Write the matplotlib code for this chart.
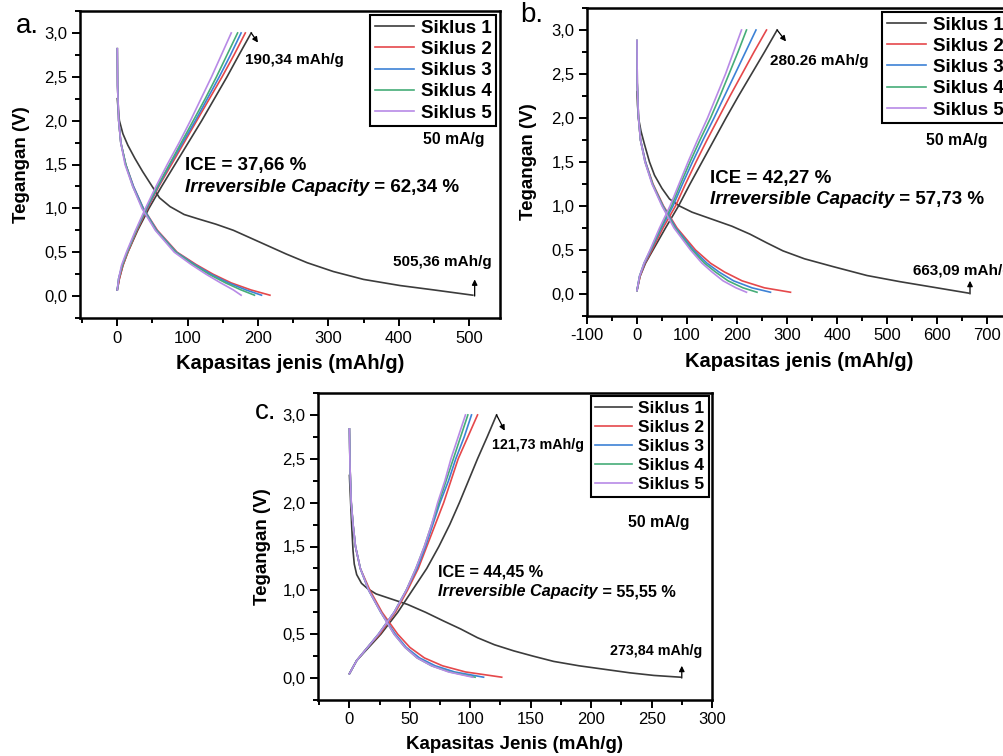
import matplotlib
matplotlib.use("Agg")
import matplotlib.pyplot as plt
from matplotlib.ticker import MultipleLocator, FuncFormatter

plt.rcParams['font.family'] = ['Liberation Sans', 'DejaVu Sans']
plt.rcParams['axes.unicode_minus'] = False

COLORS = ['#3c3c3c', '#e5484b', '#3d82d6', '#46ad78', '#b88ae6']
LABELS = ['Siklus 1', 'Siklus 2', 'Siklus 3', 'Siklus 4', 'Siklus 5']

# ---- panel a ----
a_dis1_cap = [0, 1, 3, 8, 15, 25, 36, 48, 60, 75, 95, 115, 140, 165, 190, 215, 240, 270, 307, 350, 402, 450, 505.36]
a_dis1_v = [2.25, 2.15, 2.0, 1.85, 1.72, 1.57, 1.42, 1.27, 1.12, 1.02, 0.93, 0.88, 0.82, 0.75, 0.66, 0.57, 0.48, 0.38, 0.28, 0.19, 0.12, 0.07, 0.01]
a_dis_v = [2.82, 2.4, 2.0, 1.75, 1.5, 1.25, 1.0, 0.75, 0.5, 0.36, 0.25, 0.15, 0.07, 0.01]
a_dis_cap = [
    [0, 0.4, 2, 5, 12, 23, 37, 57, 85, 112, 136, 162, 190, 217],
    [0, 0.4, 2, 5, 12, 23, 37, 56, 84, 110, 133, 158, 183, 205],
    [0, 0.4, 2, 5, 12, 22, 36, 55, 83, 108, 130, 154, 176, 195],
    [0, 0.4, 2, 5, 11, 22, 35, 54, 81, 105, 126, 147, 165, 176],
]
a_chg_v = [0.07, 0.2, 0.35, 0.5, 0.75, 1.0, 1.25, 1.5, 1.75, 2.0, 2.25, 2.5, 2.75, 3.0]
a_chg_cap = [
    [0, 3, 8, 15, 29, 45, 63, 82, 101, 120, 138, 156, 173, 190.34],
    [0, 3, 8, 15, 28, 43, 59, 77, 95, 113, 131, 149, 166, 182],
    [0, 2, 7, 14, 27, 42, 58, 75, 93, 111, 128, 145, 161, 176],
    [0, 2, 7, 14, 27, 41, 57, 74, 91, 108, 125, 141, 156, 171],
    [0, 2, 6, 13, 26, 40, 55, 71, 88, 104, 119, 134, 148, 162],
]

# ---- panel b ----
b_dis1_cap = [0, 1, 3, 8, 15, 25, 35, 50, 65, 85, 110, 150, 190, 226, 260, 292, 335, 393, 460, 526, 600, 663.09]
b_dis1_v = [2.3, 2.15, 2.0, 1.85, 1.7, 1.5, 1.35, 1.2, 1.08, 1.0, 0.93, 0.85, 0.77, 0.68, 0.58, 0.49, 0.4, 0.31, 0.21, 0.14, 0.07, 0.01]
b_dis_v = [2.88, 2.4, 2.0, 1.75, 1.5, 1.25, 1.0, 0.75, 0.5, 0.35, 0.25, 0.15, 0.07, 0.02]
b_dis_cap = [
    [0, 0.5, 3, 7, 17, 32, 53, 80, 117, 147, 175, 210, 255, 307],
    [0, 0.5, 3, 7, 17, 31, 52, 78, 113, 140, 164, 193, 230, 267],
    [0, 0.5, 3, 7, 16, 31, 51, 76, 110, 135, 157, 182, 212, 240],
    [0, 0.5, 3, 7, 16, 30, 50, 74, 107, 130, 150, 172, 198, 219],
]
b_chg_v = [0.04, 0.2, 0.35, 0.5, 0.75, 1.0, 1.25, 1.5, 1.75, 2.0, 2.25, 2.5, 2.75, 3.0]
b_chg_cap = [
    [0, 6, 17, 32, 57, 83, 106, 130, 154, 178, 203, 229, 255, 280.26],
    [0, 6, 16, 30, 52, 77, 97, 118, 140, 163, 186, 210, 234, 259],
    [0, 5, 15, 28, 49, 72, 91, 111, 132, 154, 175, 196, 217, 238],
    [0, 5, 14, 27, 47, 69, 87, 106, 126, 147, 166, 184, 202, 219],
    [0, 5, 14, 26, 45, 66, 84, 102, 121, 141, 159, 177, 193, 209],
]

# ---- panel c ----
c_dis1_cap = [0, 1, 2, 3, 4, 6, 10, 15, 22, 35, 48, 63, 78, 92, 106, 120, 136, 152, 169, 190, 211, 232, 252, 273.84]
c_dis1_v = [2.31, 2.0, 1.7, 1.45, 1.3, 1.18, 1.08, 1.02, 0.96, 0.9, 0.84, 0.75, 0.65, 0.56, 0.46, 0.38, 0.31, 0.25, 0.19, 0.14, 0.1, 0.06, 0.03, 0.01]
c_dis_v = [2.84, 2.4, 2.0, 1.75, 1.5, 1.25, 1.0, 0.75, 0.5, 0.35, 0.23, 0.14, 0.07, 0.01]
c_dis_cap = [
    [0, 0.5, 1.5, 3, 5, 9, 17, 27, 40, 50, 62, 77, 96, 126],
    [0, 0.5, 1.5, 3, 5, 9, 16, 26, 38, 47, 58, 71, 87, 111],
    [0, 0.5, 1.5, 3, 5, 9, 16, 26, 37, 46, 56, 68, 83, 104],
    [0, 0.5, 1.5, 3, 5, 9, 16, 26, 37, 46, 56, 68, 82, 102],
]
c_chg_v = [0.05, 0.2, 0.35, 0.5, 0.75, 1.0, 1.25, 1.5, 1.75, 2.0, 2.25, 2.5, 2.75, 3.0]
c_chg_cap = [
    [0, 6, 16, 26, 40, 52, 64, 74, 83, 91, 98.5, 106, 114, 121.73],
    [0, 6, 15, 25, 38, 48, 57, 64, 71, 78, 84, 90, 98, 106],
    [0, 6, 15, 24, 37, 47, 56, 63, 69, 75, 82, 88, 95, 101],
    [0, 6, 15, 24, 37, 47, 55, 62, 68, 74, 80, 86, 92, 98],
    [0, 6, 15, 24, 37, 47, 55, 62, 68, 73, 79, 84, 90, 96],
]


def draw_panel(ax, dis1_cap, dis1_v, dis_cap, dis_v, chg_cap, chg_v):
    for i in range(5):
        if i == 0:
            ax.plot(dis1_cap, dis1_v, color=COLORS[0], lw=1.2, label=LABELS[0])
        else:
            ax.plot(dis_cap[i - 1], dis_v, color=COLORS[i], lw=1.2, label=LABELS[i])
        ax.plot(chg_cap[i], chg_v, color=COLORS[i], lw=1.2)


def style_axes(ax, xlim, xmajor, xlabel, k=1.0, ypad=10):
    ax.set_xlim(*xlim)
    ax.set_ylim(-0.25, 3.25)
    ax.xaxis.set_major_locator(MultipleLocator(xmajor))
    ax.xaxis.set_minor_locator(MultipleLocator(xmajor / 2))
    ax.yaxis.set_major_locator(MultipleLocator(0.5))
    ax.yaxis.set_minor_locator(MultipleLocator(0.25))
    ax.yaxis.set_major_formatter(FuncFormatter(lambda v, p: f"{v:.1f}".replace('.', ',')))
    ax.tick_params(which='both', direction='out', top=False, right=False, width=1.4, labelsize=12, pad=3)
    ax.tick_params(which='major', length=6)
    ax.tick_params(which='minor', length=3.5)
    for s in ax.spines.values():
        s.set_linewidth(1.8)
    ax.set_xlabel(xlabel, fontsize=14.5 * k, fontweight='bold', labelpad=6)
    ax.set_ylabel('Tegangan (V)', fontsize=13.5, fontweight='bold', labelpad=ypad)
    leg = ax.legend(loc='upper right', prop={'weight': 'bold', 'size': 13.5 * k}, frameon=True,
                    fancybox=False, framealpha=1, edgecolor='black', borderaxespad=0.2,
                    handlelength=2.1, handletextpad=0.35, labelspacing=0.22, borderpad=0.25)
    leg.get_frame().set_linewidth(1.5)


def add_texts(ax, ice, irr, cur_pos, ice_pos, gap, k=1.0):
    ax.text(cur_pos[0], cur_pos[1], '50 mA/g', transform=ax.transAxes, fontsize=11.3,
            fontweight='bold', ha='center', va='center')
    ax.text(ice_pos[0], ice_pos[1], 'ICE = ' + ice, transform=ax.transAxes, fontsize=13.5 * k,
            fontweight='bold', va='center')
    t = ax.text(ice_pos[0], ice_pos[1] - gap, 'Irreversible Capacity', transform=ax.transAxes,
                fontsize=13.5 * k, fontweight='bold', style='italic', va='center')
    ax.annotate(' = ' + irr, xy=(1, 0.5), xycoords=t, fontsize=13.5 * k, fontweight='bold',
                va='center', ha='left')


def add_capacity_marks(ax, top_end, top_tip, top_text, top_pos, bot_end, bot_tip, bot_text, bot_pos, fs=11):
    arrow = dict(arrowstyle='-|>', lw=0.9, color='black', mutation_scale=8, shrinkA=0, shrinkB=0)
    ax.annotate('', xy=top_tip, xytext=top_end, arrowprops=arrow)
    ax.text(top_pos[0], top_pos[1], top_text, transform=ax.transAxes, fontsize=fs,
            fontweight='bold', va='center', zorder=6)
    ax.annotate('', xy=bot_tip, xytext=bot_end, arrowprops=arrow)
    ax.text(bot_pos[0], bot_pos[1], bot_text, transform=ax.transAxes, fontsize=fs,
            fontweight='bold', va='center')


fig = plt.figure(figsize=(10.04, 7.56), dpi=100)

ax_a = fig.add_axes([80 / 1004, 1 - 318 / 756, 420 / 1004, 307 / 756])
draw_panel(ax_a, a_dis1_cap, a_dis1_v, a_dis_cap, a_dis_v, a_chg_cap, a_chg_v)
style_axes(ax_a, (-53, 544), 100, 'Kapasitas jenis (mAh/g)')
add_texts(ax_a, '37,66 %', '62,34 %', (0.89, 0.58), (0.25, 0.496), 0.072)
add_capacity_marks(ax_a, (190.34, 3.0), (200, 2.89), '190,34 mAh/g', (0.393, 0.84),
                   (508, 0.0), (508, 0.19), '505,36 mAh/g', (0.745, 0.183))

ax_b = fig.add_axes([587 / 1004, 1 - 316 / 756, 425 / 1004, 308 / 756])
draw_panel(ax_b, b_dis1_cap, b_dis1_v, b_dis_cap, b_dis_v, b_chg_cap, b_chg_v)
style_axes(ax_b, (-100, 750), 100, 'Kapasitas jenis (mAh/g)')
add_texts(ax_b, '42,27 %', '57,73 %', (0.87, 0.571), (0.289, 0.447), 0.068)
add_capacity_marks(ax_b, (280.26, 3.0), (298, 2.87), '280.26 mAh/g', (0.431, 0.828),
                   (666, 0.0), (666, 0.15), '663,09 mAh/g', (0.767, 0.147))

ax_c = fig.add_axes([318 / 1004, 1 - 700 / 756, 394 / 1004, 307 / 756])
draw_panel(ax_c, c_dis1_cap, c_dis1_v, c_dis_cap, c_dis_v, c_chg_cap, c_chg_v)
style_axes(ax_c, (-26, 300), 50, 'Kapasitas Jenis (mAh/g)', k=0.93, ypad=8)
add_texts(ax_c, '44,45 %', '55,55 %', (0.866, 0.578), (0.305, 0.418), 0.065, k=0.87)
add_capacity_marks(ax_c, (121.73, 3.0), (128.5, 2.82), '121,73 mAh/g', (0.441, 0.83),
                   (275, 0.0), (275, 0.14), '273,84 mAh/g', (0.741, 0.16), fs=10.3)

fig.text(16 / 1004, 1 - 33 / 756, 'a.', fontsize=20, va='baseline')
fig.text(520 / 1004, 1 - 22 / 756, 'b.', fontsize=20, va='baseline')
fig.text(255 / 1004, 1 - 419 / 756, 'c.', fontsize=20, va='baseline')

fig.savefig('out.png', dpi=100)
